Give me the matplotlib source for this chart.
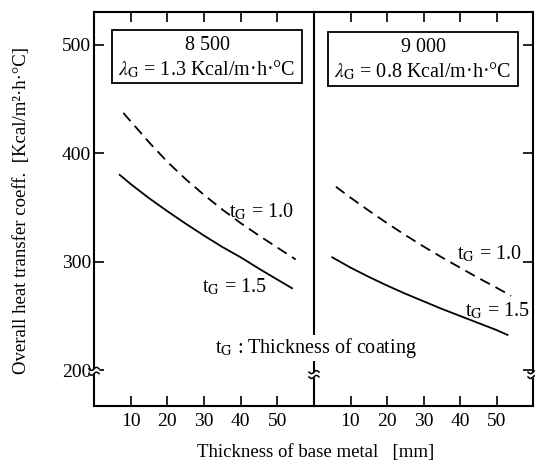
import numpy as np
import matplotlib
matplotlib.use("Agg")
import matplotlib.pyplot as plt
import matplotlib.transforms as mtransforms
from matplotlib.patches import Rectangle

plt.rcParams['font.family'] = ['Liberation Serif', 'DejaVu Serif']
plt.rcParams['mathtext.fontset'] = 'stix'

# left panel: 8 500, lambda_G = 1.3
x_left_10 = [8, 15, 20, 25, 30, 35, 40, 45, 50, 55]
y_left_10 = [437, 410, 392, 376, 361.5, 348, 335.5, 324, 313, 302]
x_left_15 = [7, 10, 15, 20, 25, 30, 35, 40, 45, 50, 54]
y_left_15 = [380, 371.5, 358.5, 346.5, 335, 324, 313.5, 304, 293.5, 283.5, 275.5]

# right panel: 9 000, lambda_G = 0.8
x_right_10 = [6, 10, 15, 20, 25, 30, 35, 40, 45, 50, 54]
y_right_10 = [369, 359, 347, 335.5, 324.5, 314, 304, 294.5, 285, 276, 268.5]
x_right_15 = [5, 10, 15, 20, 25, 30, 35, 40, 45, 50, 53]
y_right_15 = [304, 294.5, 286, 278, 270.5, 263.5, 256.5, 250, 243.5, 237, 232.5]

xticks = [10, 20, 30, 40, 50]
yticks = [200, 300, 400, 500]

W, H = 535, 465
fig = plt.figure(figsize=(W / 100, H / 100), dpi=100)


def px_axes(x0, y0, x1, y1):
    return fig.add_axes([x0 / W, 1 - y1 / H, (x1 - x0) / W, (y1 - y0) / H])


ax1 = px_axes(94, 12, 314, 406)
ax2 = px_axes(314, 12, 533, 406)

for ax in (ax1, ax2):
    ax.set_xlim(0, 60)
    ax.set_ylim(167, 530)
    ax.set_xticks(xticks)
    ax.tick_params(axis='both', direction='in', length=7, width=1.2,
                   labelsize=14, top=True, pad=5)
    ax.patch.set_visible(False)
    for s in ax.spines.values():
        s.set_linewidth(1.5)

ax1.set_yticks(yticks)
ax1.tick_params(axis='y', left=True, right=False, pad=2)
ax2.set_yticks(yticks)
ax2.tick_params(axis='y', left=False, right=True, labelleft=False)
ax2.spines['left'].set_visible(False)

dash = (0, (6, 3.5))
ax1.plot(x_left_10, y_left_10, color='black', lw=1.3, ls=dash)
ax1.plot(x_left_15, y_left_15, color='black', lw=1.3)
ax2.plot(x_right_10, y_right_10, color='black', lw=1.3, ls=dash)
ax2.plot(x_right_15, y_right_15, color='black', lw=1.3)

fs = 14.5
ax1.text(36.8, 346, "t$_{\\rm G}$ = 1.0", fontsize=fs, va='center')
ax1.text(29.5, 277, "t$_{\\rm G}$ = 1.5", fontsize=fs, va='center')
ax2.text(39.2, 307, "t$_{\\rm G}$ = 1.0", fontsize=fs, va='center')
ax2.text(41.4, 255, "t$_{\\rm G}$ = 1.5", fontsize=fs, va='center')
fig.text(215 / W, 1 - 348 / H, "t$_{\\rm G}$ : Thickness of coating",
         fontsize=fs, va='center', zorder=10,
         bbox=dict(facecolor='white', edgecolor='none', pad=1))

# boxes
ax1.add_patch(Rectangle((0.082, 0.820), 0.863, 0.134, transform=ax1.transAxes,
                        fill=False, lw=1.3, color='black'))
ax1.text(0.514, 0.916, "8 500", transform=ax1.transAxes, fontsize=fs,
         ha='center', va='center')
ax1.text(0.514, 0.855, "$\\lambda_{\\rm G}$ = 1.3 Kcal/m·h·°C",
         transform=ax1.transAxes, fontsize=fs, ha='center', va='center')
ax2.add_patch(Rectangle((0.064, 0.812), 0.868, 0.137, transform=ax2.transAxes,
                        fill=False, lw=1.3, color='black'))
ax2.text(0.498, 0.909, "9 000", transform=ax2.transAxes, fontsize=fs,
         ha='center', va='center')
ax2.text(0.498, 0.850, "$\\lambda_{\\rm G}$ = 0.8 Kcal/m·h·°C",
         transform=ax2.transAxes, fontsize=fs, ha='center', va='center')


def axis_break(ax, xpos, yval):
    # small wavy "≈" break mark across a vertical axis line
    trans = fig.dpi_scale_trans + mtransforms.ScaledTranslation(
        xpos, yval, ax.get_yaxis_transform())
    t = np.linspace(-0.05, 0.05, 40)
    w = 0.015 * np.sin(t / 0.05 * np.pi)
    gap = 0.024
    ax.fill_between(t, w - gap, w + gap, color='white', transform=trans,
                    clip_on=False, zorder=5, lw=0)
    for off in (-gap, gap):
        ax.plot(t, w + off, color='black', lw=1.1, transform=trans,
                clip_on=False, zorder=6)


axis_break(ax1, 0, 199)
axis_break(ax1, 1, 196)
axis_break(ax2, 1, 196)

fig.text(22 / W, 1 - 210 / H, "Overall heat transfer coeff.  [Kcal/m²·h·°C]",
         rotation=90, fontsize=13.5, ha='center', va='center')
fig.text(316 / W, 1 - 452 / H, "Thickness of base metal   [mm]",
         fontsize=13.5, ha='center', va='center')

fig.savefig("out.png", dpi=100)
